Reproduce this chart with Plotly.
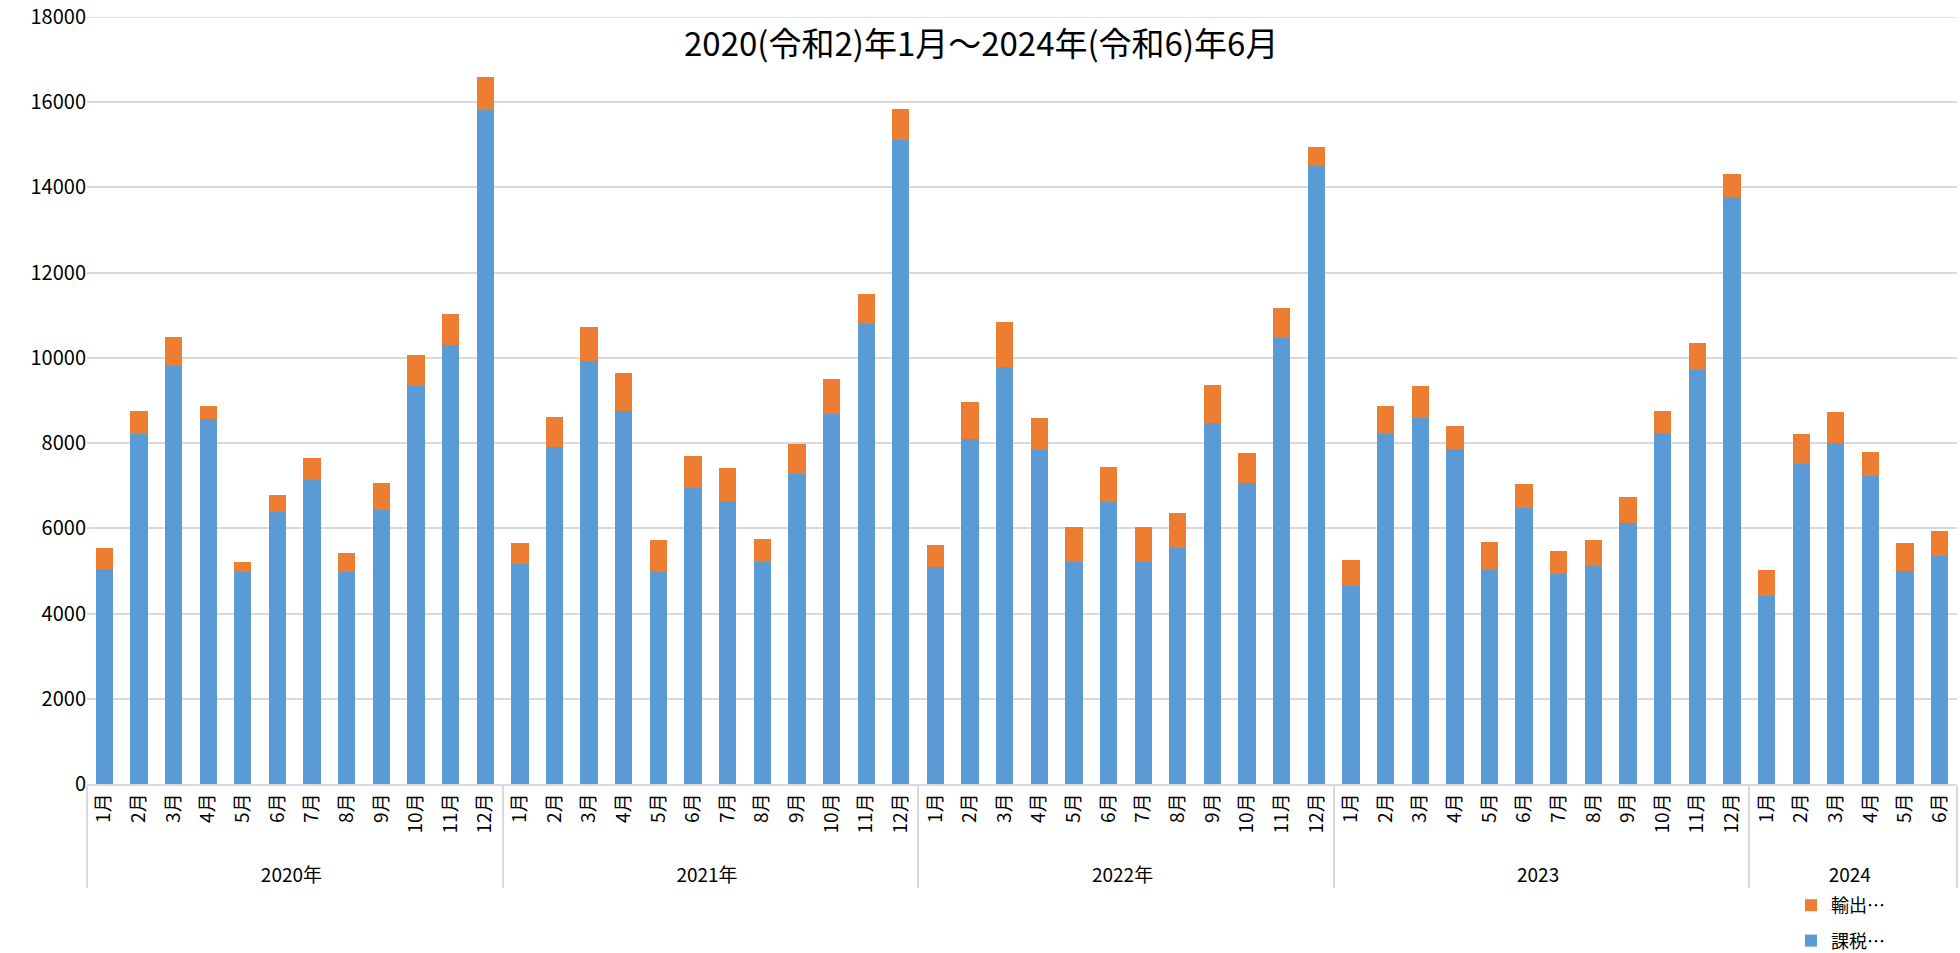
import plotly.graph_objects as go

years = ["2020年"] * 12 + ["2021年"] * 12 + ["2022年"] * 12 + ["2023"] * 12 + ["2024"] * 6
months = [f"{m}月" for m in range(1, 13)] * 4 + [f"{m}月" for m in range(1, 7)]

taxed = [
    5050, 8220, 9810, 8555, 4980, 6395, 7125, 4980, 6420, 9345, 10305, 15825,
    5170, 7900, 9930, 8760, 4985, 6940, 6635, 5200, 7280, 8695, 10790, 15115,
    5085, 8085, 9775, 7845, 5210, 6610, 5200, 5550, 8465, 7075, 10470, 14505,
    4655, 8205, 8580, 7870, 5020, 6485, 4935, 5120, 6120, 8240, 9705, 13785,
    4415, 7520, 8010, 7220, 5010, 5360,
]
export = [
    480, 540, 680, 315, 240, 395, 525, 450, 645, 720, 720, 760,
    495, 720, 790, 880, 740, 755, 775, 540, 705, 820, 710, 735,
    520, 875, 1075, 745, 830, 825, 830, 800, 895, 685, 695, 455,
    605, 665, 765, 520, 670, 555, 530, 610, 605, 520, 645, 525,
    610, 685, 730, 565, 655, 585,
]
y_max = 18000
y_ticks = list(range(0, y_max + 1, 2000))

title_text = "2020(令和2)年1月～2024年(令和6)年6月"
name_taxed = "課税…"
name_export = "輸出…"

FONT = "Noto Sans CJK JP"
GRID = "#D9D9D9"
NB = "\u00a0"

# leading no-break spaces push the year row a little further from the axis
month_labels = [NB * 3 + m for m in months]

fig = go.Figure()
fig.add_trace(go.Bar(x=[years, month_labels], y=taxed, name=name_taxed, legendgroup="a",
                     legendrank=2,
                     marker=dict(color="#5B9BD5", line=dict(width=0))))
fig.add_trace(go.Bar(x=[years, month_labels], y=export, name=name_export, legendgroup="b",
                     legendrank=1,
                     marker=dict(color="#ED7D31", line=dict(width=0))))

W, H = 1960, 953
L, R, T, B = 87, 3, 17, 169
PW, PH = W - L - R, H - T - B

fig.update_layout(
    width=W, height=H,
    barmode="stack", bargap=0.5,
    plot_bgcolor="white", paper_bgcolor="white",
    margin=dict(l=L, r=R, t=T, b=B, autoexpand=False),
    font=dict(family=FONT, color="#000000", size=18),
    legend=dict(traceorder="grouped", x=(1791 - L) / PW, xanchor="left",
                y=-(887 - (T + PH)) / PH, yanchor="top",
                font=dict(size=18, family=FONT), tracegroupgap=9,
                bgcolor="rgba(0,0,0,0)"),
    annotations=[dict(text=title_text, xref="paper", yref="paper",
                      x=(981 - L) / PW, y=1 - (42 - T) / PH,
                      xanchor="center", yanchor="middle", showarrow=False,
                      font=dict(size=33, family=FONT, color="#000000"))],
    shapes=[dict(type="line", xref="paper", yref="y", x0=0, x1=1, y0=y_max, y1=y_max,
                 line=dict(color=GRID, width=1.5), layer="below")],
)
fig.update_yaxes(range=[0, y_max], tickvals=y_ticks, tickformat="d",
                 ticksuffix=NB * 3,
                 showgrid=True, gridcolor=GRID, gridwidth=1.5,
                 zeroline=False, showline=False, ticks="",
                 ticklabeloverflow="allow",
                 tickfont=dict(size=20, family=FONT))
fig.update_xaxes(type="multicategory", tickangle=-90, showline=True,
                 linecolor=GRID, linewidth=1.5, ticks="",
                 showdividers=True, dividercolor=GRID, dividerwidth=1.5,
                 tickfont=dict(size=19, family=FONT))

fig.write_html("out.html", config={"displayModeBar": False},
               post_script="document.body.style.margin='0';")
